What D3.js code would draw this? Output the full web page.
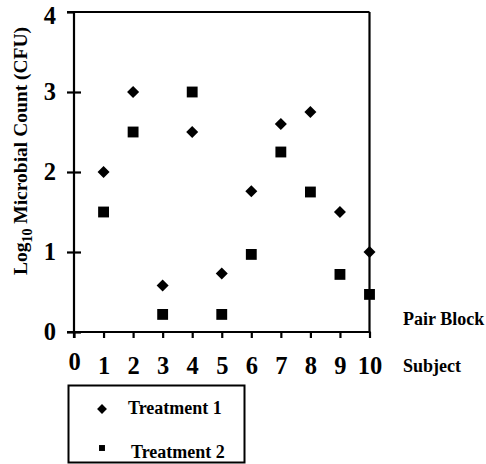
<!DOCTYPE html>
<html><head><meta charset="utf-8">
<script src="https://cdn.jsdelivr.net/npm/d3@7"></script>
<style>body{margin:0;background:#fff}svg{display:block}text{font-family:"Liberation Serif","Times New Roman",serif;font-weight:bold;fill:#000}</style>
</head><body><div id="chart"></div>
<script>
const subjects = [1,2,3,4,5,6,7,8,9,10];
const treatment1 = [2.0,3.0,0.58,2.5,0.73,1.76,2.6,2.75,1.5,1.0];
const treatment2 = [1.5,2.5,0.22,3.0,0.22,0.97,2.25,1.75,0.72,0.47];
const xTicks = [0,1,2,3,4,5,6,7,8,9,10];
const yTicks = [0,1,2,3,4];
const seriesNames = ["Treatment 1","Treatment 2"];

const W=486,H=464;
const svg=d3.select("#chart").append("svg").attr("width",W).attr("height",H);
const x=d3.scaleLinear().domain([0,10]).range([74,369.5]);
const y=d3.scaleLinear().domain([0,4]).range([332,12]);
const sw=2.2;

// frame top & right
svg.append("line").attr("x1",67).attr("x2",x(10)).attr("y1",y(4)).attr("y2",y(4)).attr("stroke","#000").attr("stroke-width",sw);
svg.append("line").attr("x1",x(10)).attr("x2",x(10)).attr("y1",y(4)).attr("y2",y(0)).attr("stroke","#000").attr("stroke-width",sw);

// y axis
const ya=svg.append("g").attr("transform",`translate(${x(0)},0)`)
 .call(d3.axisLeft(y).tickValues(yTicks).tickSize(7).tickSizeOuter(0).tickFormat(d3.format("d")));
ya.select(".domain").remove();
svg.append("line").attr("x1",x(0)).attr("x2",x(0)).attr("y1",y(4)).attr("y2",338).attr("stroke","#000").attr("stroke-width",sw);
ya.selectAll(".tick line").attr("stroke-width",sw).attr("x2",-7).attr("x1",d=>d===4?0:7);
ya.selectAll(".tick text").attr("x",-18).attr("y",d=>d===4?4:0).attr("font-size",24.5).attr("font-family","Liberation Serif").attr("font-weight","bold").attr("fill","#000");

// x axis
const xa=svg.append("g").attr("transform",`translate(0,${y(0)})`)
 .call(d3.axisBottom(x).tickValues(xTicks).tickSize(6).tickSizeOuter(0).tickFormat(d3.format("d")));
xa.select(".domain").remove();
svg.append("line").attr("x1",67).attr("x2",x(10)+1).attr("y1",y(0)).attr("y2",y(0)).attr("stroke","#000").attr("stroke-width",sw);
xa.selectAll(".tick line").attr("stroke-width",sw);
xa.selectAll(".tick text").attr("y",d=>d===0?21:25).attr("dy","0.71em").attr("font-size",24.5).attr("font-family","Liberation Serif").attr("font-weight","bold").attr("fill","#000");

// markers
const diamond=d3.symbol().type(d3.symbolDiamond2).size(92);
const square=d3.symbol().type(d3.symbolSquare2).size(150);
svg.append("g").selectAll("path").data(subjects).join("path")
 .attr("d",diamond).attr("transform",(d,i)=>`translate(${x(d)},${y(treatment1[i])})`).attr("fill","#000");
svg.append("g").selectAll("path").data(subjects).join("path")
 .attr("d",square).attr("transform",(d,i)=>`translate(${x(d)},${y(treatment2[i])})`).attr("fill","#000");

// axis labels
svg.append("text").attr("x",403).attr("y",325).attr("font-size",18).text("Pair Block");
svg.append("text").attr("x",403).attr("y",372).attr("font-size",18).text("Subject");
const yt=svg.append("text").attr("transform","translate(27,151) rotate(-90)").attr("text-anchor","middle").attr("font-size",19.5);
yt.append("tspan").text("Log");
yt.append("tspan").attr("font-size",14).attr("dy",5).text("10");
yt.append("tspan").attr("dy",-5).text(" Microbial Count (CFU)");

// legend
const lg=svg.append("g");
lg.append("rect").attr("x",68.5).attr("y",385.5).attr("width",176).attr("height",77).attr("fill","none").attr("stroke","#000").attr("stroke-width",2);
lg.append("path").attr("d",d3.symbol().type(d3.symbolDiamond2).size(62)).attr("transform","translate(102,409)");
lg.append("path").attr("d",d3.symbol().type(d3.symbolSquare2).size(45)).attr("transform","translate(102,448)");
lg.append("text").attr("x",128).attr("y",414).attr("font-size",18).text(seriesNames[0]);
lg.append("text").attr("x",131).attr("y",458).attr("font-size",18).text(seriesNames[1]);
</script></body></html>
